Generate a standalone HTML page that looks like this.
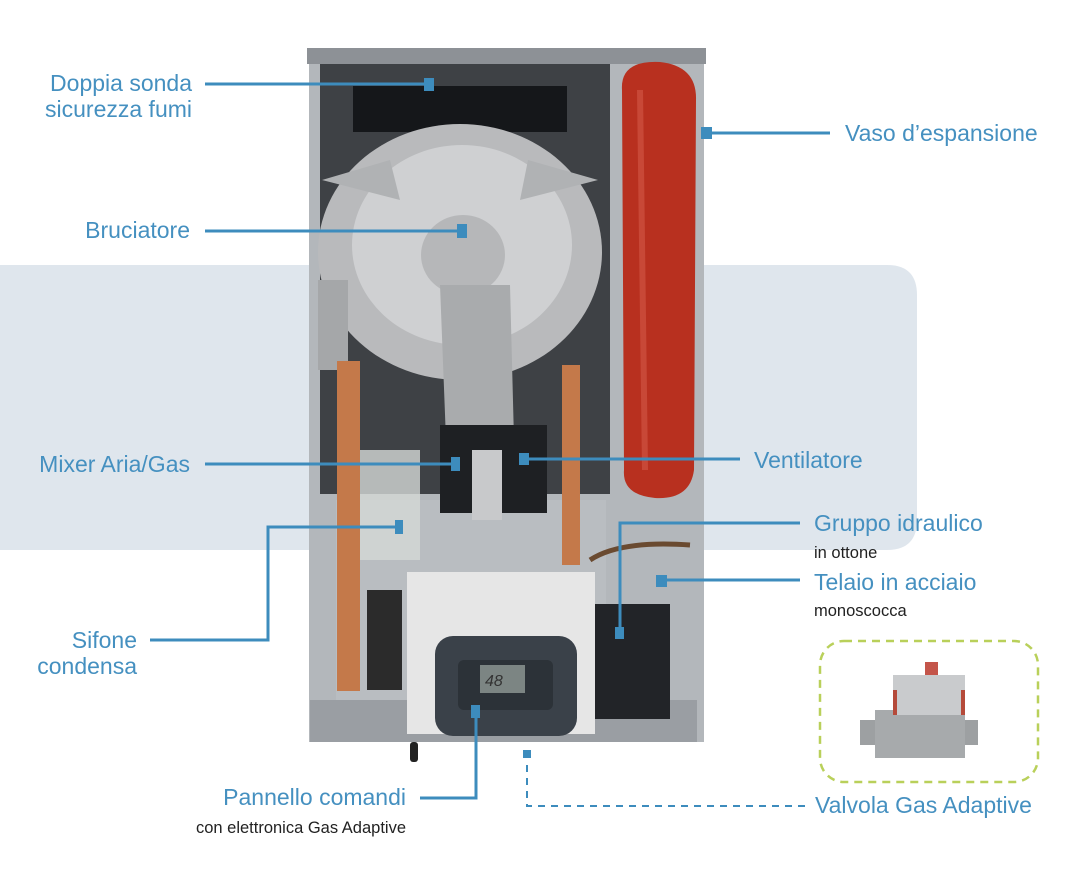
<!DOCTYPE html>
<html><head><meta charset="utf-8"><style>
html,body{margin:0;padding:0;background:#fff}
svg{display:block}
.l{font-family:"Liberation Sans",sans-serif;font-size:23px;fill:#4590c0}
.s{font-family:"Liberation Sans",sans-serif;font-size:16.5px;fill:#222}
</style></head><body>
<svg width="1066" height="874" viewBox="0 0 1066 874" xmlns="http://www.w3.org/2000/svg">
<path d="M0 265 H887 Q917 265 917 295 V520 Q917 550 887 550 H0 Z" fill="#dfe6ed"/>
<!-- boiler -->
<rect x="309" y="52" width="395" height="690" fill="#b3b7bb"/>
<rect x="307" y="48" width="399" height="16" fill="#8d9196"/>
<rect x="320" y="64" width="290" height="430" fill="#3e4145"/>
<rect x="353" y="86" width="214" height="46" fill="#15171a"/>
<rect x="336" y="500" width="270" height="200" fill="#b9bdc1"/>
<ellipse cx="460" cy="252" rx="142" ry="128" fill="#b9babc"/>
<ellipse cx="462" cy="245" rx="110" ry="100" fill="#cfd0d2"/>
<path d="M322 180 L390 160 L400 200 Z M598 180 L528 160 L520 200 Z" fill="#b0b2b4"/>
<rect x="318" y="280" width="30" height="90" fill="#a5a7a9"/>
<ellipse cx="463" cy="255" rx="42" ry="40" fill="#b6b7b9"/>
<path d="M440 285 L510 285 L514 440 L446 440 Z" fill="#a9abad"/>
<rect x="440" y="425" width="107" height="88" fill="#1e2023"/>
<rect x="472" y="450" width="30" height="70" fill="#c8c9cb"/>
<rect x="337" y="361" width="23" height="330" fill="#c4794a"/>
<rect x="562" y="365" width="18" height="200" fill="#c4794a"/>
<rect x="360" y="450" width="60" height="110" fill="#d5d8d6" opacity=".8"/>
<path d="M622 90 Q620 60 660 62 Q697 66 696 100 L694 470 Q690 500 655 498 Q622 495 624 470 Z" fill="#b8301f"/>
<path d="M640 90 L645 470" stroke="#d9604f" stroke-width="6" opacity=".5"/>
<path d="M590 560 Q620 540 690 545" stroke="#6a4a30" stroke-width="5" fill="none"/>
<rect x="310" y="700" width="387" height="42" fill="#9a9ea3"/>
<rect x="407" y="572" width="188" height="162" fill="#e6e6e6"/>
<rect x="595" y="604" width="75" height="115" fill="#222428"/>
<rect x="367" y="590" width="35" height="100" fill="#2b2b2b"/>
<rect x="435" y="636" width="142" height="100" rx="18" fill="#3a4149"/>
<rect x="458" y="660" width="95" height="50" rx="6" fill="#2c3238"/>
<rect x="480" y="665" width="45" height="28" fill="#7c8583"/>
<text x="485" y="686" font-family="Liberation Sans" font-size="16" fill="#333" font-style="italic">48</text>
<rect x="410" y="742" width="8" height="20" rx="3" fill="#222"/>
<!-- valve inset -->
<rect x="820" y="641" width="218" height="141" rx="24" fill="none" stroke="#b9d05a" stroke-width="2.5" stroke-dasharray="8 6"/>
<rect x="860" y="720" width="20" height="25" fill="#9da0a2"/>
<rect x="958" y="720" width="20" height="25" fill="#9da0a2"/>
<rect x="875" y="710" width="90" height="48" fill="#a7aaac"/>
<rect x="893" y="675" width="72" height="40" fill="#c9cbcd"/>
<rect x="893" y="690" width="4" height="25" fill="#b54a3a"/><rect x="961" y="690" width="4" height="25" fill="#b54a3a"/>
<rect x="925" y="662" width="13" height="13" fill="#c4554a"/>
<!-- connectors -->
<g stroke="#3d8cbd" stroke-width="3" fill="none">
<path d="M205 84 H428"/>
<path d="M707 133 H830"/>
<path d="M205 231 H462"/>
<path d="M205 464 H456"/>
<path d="M522 459 H740"/>
<path d="M800 523 H620 V632"/>
<path d="M662 580 H800"/>
<path d="M150 640 H268 V527 H400"/>
<path d="M420 798 H476 V712"/>
<path d="M527 765 V806 H805" stroke-width="2" stroke-dasharray="7 6"/>
</g>
<g fill="#3d8cbd">
<rect x="424" y="78" width="10" height="13"/>
<rect x="701" y="127" width="11" height="12"/>
<rect x="457" y="224" width="10" height="14"/>
<rect x="451" y="457" width="9" height="14"/>
<rect x="519" y="453" width="10" height="12"/>
<rect x="615" y="627" width="9" height="12"/>
<rect x="656" y="575" width="11" height="12"/>
<rect x="395" y="520" width="8" height="14"/>
<rect x="471" y="705" width="9" height="13"/>
<rect x="523" y="750" width="8" height="8"/>
</g>
<!-- labels -->
<text class="l" x="192" y="91" text-anchor="end">Doppia sonda</text>
<text class="l" x="192" y="117" text-anchor="end">sicurezza fumi</text>
<text class="l" x="845" y="141">Vaso d’espansione</text>
<text class="l" x="190" y="238" text-anchor="end">Bruciatore</text>
<text class="l" x="190" y="472" text-anchor="end">Mixer Aria/Gas</text>
<text class="l" x="754" y="468">Ventilatore</text>
<text class="l" x="814" y="531">Gruppo idraulico</text>
<text class="s" x="814" y="558">in ottone</text>
<text class="l" x="814" y="590">Telaio in acciaio</text>
<text class="s" x="814" y="616">monoscocca</text>
<text class="l" x="137" y="648" text-anchor="end">Sifone</text>
<text class="l" x="137" y="674" text-anchor="end">condensa</text>
<text class="l" x="406" y="805" text-anchor="end">Pannello comandi</text>
<text class="s" x="406" y="833" text-anchor="end">con elettronica Gas Adaptive</text>
<text class="l" x="815" y="813">Valvola Gas Adaptive</text>
</svg>
</body></html>
